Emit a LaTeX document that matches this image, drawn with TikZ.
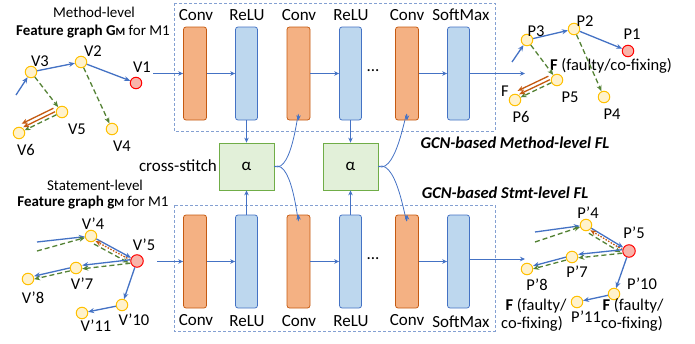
\documentclass[tikz,border=0pt]{standalone}
\usepackage{fontspec}
\setmainfont{Carlito}
\usetikzlibrary{arrows.meta}

\definecolor{convfill}{RGB}{244,177,131}
\definecolor{convline}{RGB}{197,90,17}
\definecolor{relufill}{RGB}{189,215,238}
\definecolor{reluline}{RGB}{68,114,196}
\definecolor{stitchfill}{RGB}{226,240,217}
\definecolor{stitchline}{RGB}{112,173,71}
\definecolor{edgeblue}{RGB}{68,114,196}
\definecolor{edgegreen}{RGB}{84,130,53}
\definecolor{edgeorange}{RGB}{197,90,17}
\definecolor{vfill}{RGB}{255,242,204}
\definecolor{vline}{RGB}{255,192,0}
\definecolor{redfill}{RGB}{248,180,170}
\definecolor{boxline}{RGB}{132,160,210}

\tikzset{every picture/.style={line width=0.75pt}}
\tikzset{
  conv/.style={draw=convline, fill=convfill, rounded corners=2.5pt, minimum width=23pt, minimum height=93pt, inner sep=0pt},
  relu/.style={draw=reluline, fill=relufill, rounded corners=2.5pt, minimum width=22pt, minimum height=93pt, inner sep=0pt},
  stitch/.style={draw=stitchline, fill=stitchfill, minimum width=55pt, minimum height=47pt, inner sep=0pt, font=\fontsize{17}{17}\selectfont},
  vtx/.style={circle, draw=vline, fill=vfill, line width=1pt, minimum size=11.5pt, inner sep=0pt},
  fvtx/.style={vtx, draw=red, fill=redfill},
  lbl/.style={inner sep=0.75pt, font=\fontsize{17}{20}\selectfont},
  vlbl/.style={inner sep=0.75pt, font=\fontsize{16.5}{18}\selectfont},
  title/.style={inner sep=0.75pt, font=\fontsize{15}{17}\selectfont},
  fl/.style={inner sep=0.75pt, font=\fontsize{16.5}{18}\selectfont\bfseries\itshape},
  flow/.style={draw=edgeblue, line width=0.8pt, -{Stealth[length=5pt,width=4.5pt]}},
  ctl/.style={draw=edgeblue, line width=1.3pt, -{Stealth[length=6pt,width=5pt]}},
  dat/.style={draw=edgegreen, line width=1.3pt, dash pattern=on 5pt off 3pt, -{Stealth[length=6pt,width=5pt]}},
  fault/.style={draw=edgeorange, line width=1.3pt, -{Stealth[length=6pt,width=5pt]}},
  faultdot/.style={draw=edgeorange, line width=1.3pt, dash pattern=on 1.5pt off 1.5pt, -{Stealth[length=6pt,width=5pt]}},
  gcnbox/.style={draw=boxline, line width=0.8pt, dash pattern=on 3pt off 2pt}
}

\begin{document}
\begin{tikzpicture}[x=1pt,y=1pt,yscale=-1,xscale=1]
\useasboundingbox (0,0) rectangle (695,343);

% GCN boxes
\draw[gcnbox] (174,3) rectangle (495,131);
\draw[gcnbox] (174,205) rectangle (495,331);

% Method-level layers
\node[conv] (conv1) at (195,73.5) {};
\node[relu] (relu1) at (246.5,73.5) {};
\node[conv] (conv2) at (298.5,73.5) {};
\node[relu] (relu2) at (350.5,73.5) {};
\node[lbl] (dots1) at (373,71) {...};
\node[conv] (conv3) at (407,73.5) {};
\node[relu] (soft1) at (458.5,73.5) {};
\node[lbl] at (196,15) {Conv};
\node[lbl] at (247,15) {ReLU};
\node[lbl] at (299,15) {Conv};
\node[lbl] at (351,15) {ReLU};
\node[lbl] at (407,15) {Conv};
\node[lbl] at (461,15) {SoftMax};

% Stmt-level layers
\node[conv] (conv1b) at (195,261.5) {};
\node[relu] (relu1b) at (246.5,261.5) {};
\node[conv] (conv2b) at (298.5,261.5) {};
\node[relu] (relu2b) at (350.5,261.5) {};
\node[lbl] (dots2) at (373,259) {...};
\node[conv] (conv3b) at (407,261.5) {};
\node[relu] (soft2) at (458.5,261.5) {};
\node[lbl] at (196,320) {Conv};
\node[lbl] at (247,321) {ReLU};
\node[lbl] at (299,321) {Conv};
\node[lbl] at (351,321) {ReLU};
\node[lbl] at (407,320) {Conv};
\node[lbl] at (461,322) {SoftMax};

% cross-stitch units
\node[stitch] (alpha1) at (246.5,166.5) {α};
\node[stitch] (alpha2) at (350.5,166.5) {α};
\node[lbl, anchor=east] (cs) at (218,166) {cross-stitch};

% FL labels
\node[fl] (flm) at (515,143) {GCN-based Method-level FL};
\node[fl] (fls) at (505,193) {GCN-based Stmt-level FL};

% layer connectors
\coordinate (in1) at (153,73.5);
\coordinate (out1) at (525,73.5);
\coordinate (in2) at (157,261.5);
\coordinate (out2) at (525,259);
\draw[flow] (in1) -- (conv1);
\draw[flow] (conv1) -- (relu1);
\draw[flow] (conv2) -- (relu2);
\draw[flow] (conv3) -- (soft1);
\draw[flow] (soft1) -- (out1);
\draw[flow] (in2) -- (conv1b);
\draw[flow] (conv1b) -- (relu1b);
\draw[flow] (conv2b) -- (relu2b);
\draw[flow] (conv3b) -- (soft2);
\draw[flow] (soft2.east |- out2) -- (out2);
\draw[flow] (relu1.south) -- (alpha1.north);
\draw[flow] (relu1b.north) -- (alpha1.south);
\draw[flow] (relu2.south) -- (alpha2.north);
\draw[flow] (relu2b.north) -- (alpha2.south);
\draw[flow] (alpha1.east) to[out=20,in=-90] (conv2.south);
\draw[flow] (alpha1.east) to[out=-20,in=90] (conv2b.north);
\draw[flow] (alpha2.east) to[out=20,in=-90] (conv3.south);
\draw[flow] (alpha2.east) to[out=-20,in=90] (conv3b.north);

% Method-level feature graph
\node[title] (tm1) at (94,12) {Method-level};
\node[title] (tm2) at (93,32) {\textbf{Feature graph G{\fontsize{11}{11}\selectfont M}} for M1};
\node[vtx] (v3) at (31,72) {};
\node[vtx] (v2) at (81,62) {};
\node[fvtx] (v1) at (136,83) {};
\node[vtx] (v5) at (62,112) {};
\node[vtx] (v4) at (112,129) {};
\node[vtx] (v6) at (19,133) {};
\node[vlbl] at (40,61) {V3};
\node[vlbl] at (93,51) {V2};
\node[vlbl] at (142,67) {V1};
\node[vlbl] at (77,129) {V5};
\node[vlbl] at (122,146) {V4};
\node[vlbl] at (26,150) {V6};
\coordinate (v0) at (16,95);
\draw[ctl] (v0) -- (v3);
\draw[ctl] (v3) -- (v2);
\draw[ctl] (v2) -- (v1);
\draw[dat] (v3) -- (v5);
\draw[dat] (v2) -- (v4);
\draw[dat] (v5) -- (v6);
\draw[fault, transform canvas={xshift=-1.5pt,yshift=3pt}] (v5) -- (v6);
\draw[fault, transform canvas={xshift=-3pt,yshift=6.5pt}] (v5) -- (v6);

% Statement-level feature graph
\node[title] (ts1) at (95,185) {Statement-level};
\node[title] (ts2) at (93,203) {\textbf{Feature graph g{\fontsize{11}{11}\selectfont M}} for M1};
\node[vtx] (w4) at (91,236) {};
\node[fvtx, minimum size=12.5pt] (w5) at (137,261) {};
\node[vtx] (w7) at (76,268) {};
\node[vtx] (w8) at (28,279) {};
\node[vtx] (w10) at (122,305) {};
\node[vtx] (w11) at (82,313) {};
\node[vlbl] at (93,224) {V’4};
\node[vlbl] at (144,245) {V’5};
\node[vlbl] at (82,284) {V’7};
\node[vlbl] at (33,298) {V’8};
\node[vlbl] at (134,320) {V’10};
\node[vlbl] at (96,326) {V’11};
\coordinate (w0) at (37,242);
\coordinate (w00) at (37,251);
\draw[ctl] (w0) -- (w4);
\draw[dat] (w00) -- (w4);
\draw[ctl] (w4) -- (w5);
\draw[faultdot, transform canvas={xshift=-1pt,yshift=-2pt}] (w5) -- (w4);
\draw[dat, transform canvas={xshift=-2.5pt,yshift=-5pt}] (w4) -- (w5);
\draw[ctl, transform canvas={yshift=2pt}] (w5) -- (w7);
\draw[dat, transform canvas={yshift=-1.5pt}] (w5) -- (w7);
\draw[ctl, transform canvas={yshift=1.5pt}] (w7) -- (w8);
\draw[dat, transform canvas={yshift=-1.5pt}] (w7) -- (w8);
\draw[ctl] (w5) -- (w10);
\draw[ctl] (w10) -- (w11);

% Method-level result graph
\node[vtx] (p3) at (527,40) {};
\node[vtx] (p2) at (574,29) {};
\node[fvtx] (p1) at (628,51) {};
\node[vtx] (p5) at (557,80) {};
\node[vtx] (p4) at (604,97) {};
\node[vtx] (p6) at (515,100) {};
\node[vlbl] at (536,31) {P3};
\node[vlbl] at (585,21) {P2};
\node[vlbl] at (632,34) {P1};
\node[vlbl] at (570,97) {P5};
\node[vlbl] at (612,114) {P4};
\node[vlbl] at (521,117) {P6};
\node[vlbl] (f1) at (505,91) {F};
\node[vlbl] (f2) at (611,66) {\textbf{F} (faulty/co-fixing)};
\coordinate (p0) at (512,62);
\draw[ctl] (p0) -- (p3);
\draw[ctl] (p3) -- (p2);
\draw[ctl] (p2) -- (p1);
\draw[dat] (p3) -- (p5);
\draw[dat] (p2) -- (p4);
\draw[dat] (p5) -- (p6);
\draw[fault, transform canvas={xshift=-1.5pt,yshift=3pt}] (p5) -- (p6);
\draw[fault, transform canvas={xshift=-3pt,yshift=6.5pt}] (p5) -- (p6);

% Stmt-level result graph
\node[vtx] (q4) at (586,225) {};
\node[fvtx, minimum size=12.5pt] (q5) at (629,251) {};
\node[vtx] (q7) at (572,257) {};
\node[vtx] (q8) at (527,269) {};
\node[vtx] (q10) at (614,294) {};
\node[vtx] (q11) at (577,302) {};
\node[vlbl] at (588,213) {P’4};
\node[vlbl] at (634,233) {P’5};
\node[vlbl] at (577,272) {P’7};
\node[vlbl] at (537,285) {P’8};
\node[vlbl] at (642,284) {P’10};
\node[vlbl] at (586,317) {P’11};
\node[vlbl] (f3) at (536,306) {\textbf{F} (faulty/};
\node[vlbl] (f4) at (532,324) {co-fixing)};
\node[vlbl] (f5) at (633,306) {\textbf{F} (faulty/};
\node[vlbl] (f6) at (632,324) {co-fixing)};
\coordinate (q0) at (535,232);
\coordinate (q00) at (535,242);
\draw[ctl] (q0) -- (q4);
\draw[dat] (q00) -- (q4);
\draw[ctl] (q4) -- (q5);
\draw[faultdot, transform canvas={xshift=-1pt,yshift=-2pt}] (q5) -- (q4);
\draw[dat, transform canvas={xshift=-2.5pt,yshift=-5pt}] (q4) -- (q5);
\draw[ctl, transform canvas={yshift=2pt}] (q5) -- (q7);
\draw[dat, transform canvas={yshift=-1.5pt}] (q5) -- (q7);
\draw[ctl, transform canvas={yshift=1.5pt}] (q7) -- (q8);
\draw[dat, transform canvas={yshift=-1.5pt}] (q7) -- (q8);
\draw[ctl] (q5) -- (q10);
\draw[ctl] (q10) -- (q11);

\end{tikzpicture}
\end{document}
